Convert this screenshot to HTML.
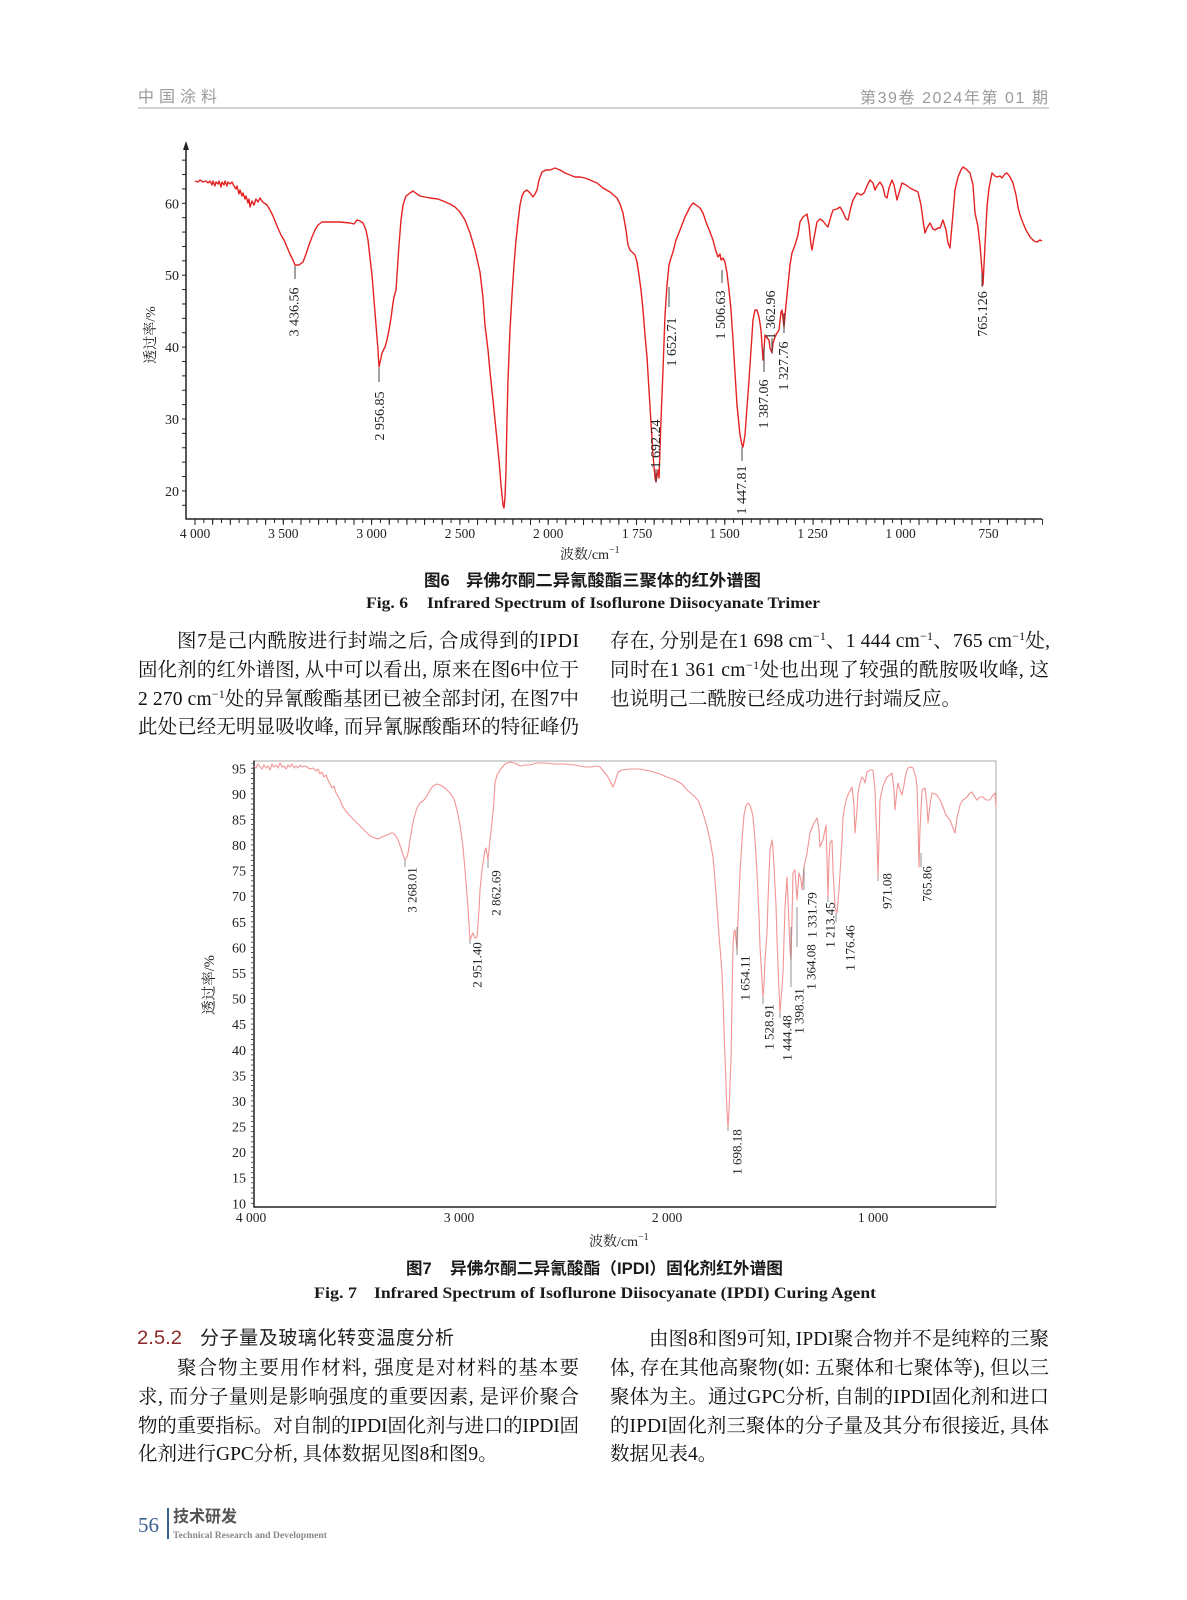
<!DOCTYPE html>
<html><head><meta charset="utf-8"><style>
html,body{margin:0;padding:0;background:#fff;}
svg{display:block;}
.s{font-family:"Liberation Serif","Noto Serif CJK SC",serif;}
.ss{font-family:"Liberation Sans","Noto Sans CJK SC",sans-serif;}
.b{font-family:"Liberation Serif","Noto Serif CJK SC",serif;font-size:19.5px;fill:#111;}
</style></head><body>
<svg width="1187" height="1600" viewBox="0 0 1187 1600" xmlns="http://www.w3.org/2000/svg">
<defs>
<pattern id="tx6" x="194.5" y="0" width="8.83" height="20" patternUnits="userSpaceOnUse"><rect x="0" y="0" width="1" height="20" fill="#222"/></pattern>
<pattern id="tx6m" x="194.5" y="0" width="17.66" height="20" patternUnits="userSpaceOnUse"><rect x="0" y="0" width="1" height="20" fill="#222"/></pattern>
<pattern id="ty6" x="0" y="202.8" width="20" height="14.38" patternUnits="userSpaceOnUse"><rect x="0" y="0" width="20" height="1" fill="#222"/></pattern>
<pattern id="ty7" x="0" y="767.8" width="20" height="5.118" patternUnits="userSpaceOnUse"><rect x="0" y="0" width="20" height="0.8" fill="#333"/></pattern>
</defs>
<rect width="1187" height="1600" fill="#fff"/>

<!-- Header -->
<text class="ss" x="138" y="102" font-size="16" fill="#9a9a9a" textLength="79" lengthAdjust="spacing">中国涂料</text>
<text class="ss" x="860" y="103" font-size="16" fill="#9a9a9a" textLength="188" lengthAdjust="spacing">第39卷  2024年第 01 期</text>
<line x1="138" y1="108" x2="1049" y2="108" stroke="#d4d4d4" stroke-width="2"/>

<!-- ================= FIG 6 ================= -->
<line x1="186" y1="146" x2="186" y2="519.5" stroke="#222" stroke-width="1.5"/>
<polygon points="186,141 183,150 189,150" fill="#222"/>
<line x1="185.5" y1="519" x2="1042" y2="519" stroke="#222" stroke-width="1.5"/>
<rect x="194" y="519" width="849" height="4" fill="url(#tx6)"/>
<rect x="194" y="519" width="849" height="6" fill="url(#tx6m)"/>
<rect x="182" y="150" width="4" height="368" fill="url(#ty6)"/>
<g class="s" font-size="14" fill="#222" text-anchor="end">
<text x="179" y="208.3">60</text>
<text x="179" y="280.2">50</text>
<text x="179" y="352.1">40</text>
<text x="179" y="424">30</text>
<text x="179" y="495.9">20</text>
</g>
<g class="s" font-size="13.5" fill="#222" text-anchor="middle">
<text x="195" y="538">4 000</text>
<text x="283.3" y="538">3 500</text>
<text x="371.6" y="538">3 000</text>
<text x="459.9" y="538">2 500</text>
<text x="548.2" y="538">2 000</text>
<text x="637" y="538">1 750</text>
<text x="724.5" y="538">1 500</text>
<text x="812.5" y="538">1 250</text>
<text x="900.5" y="538">1 000</text>
<text x="988.5" y="538">750</text>
</g>
<text class="s" font-size="14" fill="#222" text-anchor="middle" transform="translate(150,335) rotate(-90)" dy="0.35em">透过率/%</text>
<text class="s" font-size="14" fill="#222" x="560" y="559">波数/cm<tspan font-size="10" dy="-6">−1</tspan></text>

<path fill="none" stroke="#e52222" stroke-width="1.4" stroke-linejoin="round" d="M195,181 L198,182 L200,180 L203,182 L206,181 L208,183 L210,181 L212,185 L213,181 L215,186 L216,182 L218,184 L219,181 L221,187 L222,182 L224,185 L225,181 L227,186 L228,182 L230,184 L232,182 L234,186 L236,189 L237,186 L239,194 L240,190 L242,196 L243,193 L245,199 L246,196 L248,203 L249,199 L250,207 L252,201 L254,205 L256,199 L258,202 L260,198 L262,201 L264,203 L267,205 L270,210 L273,216 L277,226 L281,235 L284,240 L287,247 L290,254 L293,260 L295,265 L299,265 L303,262 L306,254 L309,245 L312,237 L315,230 L318,225 L322,222 L330,222 L340,222 L350,223 L354,224 L357,220 L360,221 L363,223 L366,230 L368,240 L370,258 L372,275 L374,300 L376,325 L378,350 L379,367 L381,358 L382,353 L385,347 L387,340 L389,330 L391,318 L393,303 L394,297 L396,290 L397,275 L399,245 L401,220 L403,205 L406,196 L410,193 L413,191 L417,194 L420,196 L425,197 L430,198 L438,199 L443,201 L450,204 L455,207 L460,212 L465,220 L470,233 L475,250 L480,272 L483,298 L485,325 L488,350 L490,372 L493,400 L496,430 L499,460 L501,485 L503,505 L504,508 L505,497 L506,470 L507,420 L508,380 L510,330 L512,295 L514,265 L516,240 L518,222 L520,205 L522,196 L524,192 L527,190 L530,193 L533,197 L535,194 L537,190 L539,180 L542,172 L546,170 L550,170 L555,168 L560,170 L565,173 L570,175 L575,177 L580,177 L585,178 L590,180 L597,183 L603,188 L610,192 L617,198 L620,204 L623,213 L626,230 L628,245 L630,250 L633,253 L635,255 L637,262 L639,275 L641,290 L643,310 L645,335 L647,357 L649,390 L651,423 L653,455 L655,478 L656,482 L657,476 L658,470 L659,478 L660,450 L661,420 L663,370 L665,315 L667,285 L669,265 L671,258 L673,252 L676,240 L680,230 L685,217 L690,207 L693,203 L696,205 L700,208 L703,213 L706,222 L708,227 L710,232 L713,240 L715,248 L717,254 L718,257 L720,254 L721,260 L723,258 L725,262 L727,273 L729,290 L731,310 L733,340 L735,373 L737,405 L740,435 L742,445 L743,447 L745,435 L747,407 L749,380 L751,350 L753,320 L755,310 L757,310 L759,317 L761,330 L763,360 L764,350 L765,335 L767,338 L769,340 L770,348 L772,353 L773,343 L775,337 L777,333 L779,330 L781,312 L782,310 L783,318 L784,327 L786,305 L788,285 L790,265 L792,253 L795,245 L798,235 L800,222 L803,217 L807,214 L809,225 L811,245 L812,250 L814,238 L817,222 L820,219 L823,221 L826,225 L828,227 L831,216 L833,210 L837,209 L840,207 L843,212 L846,219 L848,220 L851,207 L853,200 L857,193 L861,195 L864,193 L867,186 L870,180 L873,183 L875,190 L877,186 L880,182 L883,187 L885,196 L887,198 L889,188 L892,180 L894,185 L897,200 L899,193 L902,183 L906,185 L910,188 L914,190 L918,192 L921,205 L923,220 L925,233 L927,228 L930,223 L933,229 L935,230 L938,228 L940,228 L943,220 L946,230 L948,243 L950,248 L952,225 L955,190 L958,177 L961,170 L963,167 L966,169 L970,173 L973,185 L975,213 L977,222 L978,227 L980,245 L982,270 L983,285 L985,245 L987,207 L989,188 L992,173 L995,176 L997,177 L1000,176 L1002,178 L1005,174 L1007,173 L1010,177 L1013,183 L1016,195 L1018,207 L1020,215 L1023,223 L1026,230 L1030,237 L1034,241 L1037,242 L1040,240 L1042,241"/>

<g stroke="#444" stroke-width="1">
<line x1="295" y1="266" x2="295" y2="279"/>
<line x1="379" y1="368" x2="379" y2="382"/>
<line x1="656" y1="469" x2="656" y2="482"/>
<line x1="669" y1="287" x2="669" y2="307"/>
<line x1="722" y1="270" x2="722" y2="283"/>
<line x1="742" y1="447" x2="742" y2="461"/>
<line x1="764" y1="347" x2="764" y2="372"/>
<line x1="772" y1="338" x2="772" y2="353"/>
<line x1="784" y1="313" x2="784" y2="333"/>
<line x1="982" y1="273" x2="982" y2="287"/>
</g>
<g class="s" font-size="14" fill="#222" text-anchor="middle">
<text transform="translate(293.5,312) rotate(-90)" dy="0.35em">3 436.56</text>
<text transform="translate(379,416) rotate(-90)" dy="0.35em">2 956.85</text>
<text transform="translate(655,444) rotate(-90)" dy="0.35em">1 692.24</text>
<text transform="translate(671,342) rotate(-90)" dy="0.35em">1 652.71</text>
<text transform="translate(720,315) rotate(-90)" dy="0.35em">1 506.63</text>
<text transform="translate(741,490) rotate(-90)" dy="0.35em">1 447.81</text>
<text transform="translate(763,404) rotate(-90)" dy="0.35em">1 387.06</text>
<text transform="translate(770,315) rotate(-90)" dy="0.35em">1 362.96</text>
<text transform="translate(783,366) rotate(-90)" dy="0.35em">1 327.76</text>
<text transform="translate(982,314) rotate(-90)" dy="0.35em">765.126</text>
</g>

<!-- Fig 6 caption -->
<text class="ss" x="424" y="586" font-size="16.5" font-weight="bold" fill="#1a1a1a">图6</text>
<text class="ss" x="466" y="586" font-size="16.5" font-weight="bold" fill="#1a1a1a" textLength="295" lengthAdjust="spacingAndGlyphs">异佛尔酮二异氰酸酯三聚体的红外谱图</text>
<text class="s" x="366" y="608" font-size="15.5" font-weight="bold" fill="#1a1a1a" textLength="42" lengthAdjust="spacingAndGlyphs">Fig. 6</text>
<text class="s" x="427" y="608" font-size="15.5" font-weight="bold" fill="#1a1a1a" textLength="393" lengthAdjust="spacingAndGlyphs">Infrared Spectrum of Isoflurone Diisocyanate Trimer</text>

<!-- Paragraph 1 -->
<text class="b" x="177" y="647" textLength="402" lengthAdjust="spacing">图7是己内酰胺进行封端之后, 合成得到的IPDI</text>
<text class="b" x="138" y="676" textLength="441" lengthAdjust="spacing">固化剂的红外谱图, 从中可以看出, 原来在图6中位于</text>
<text class="b" x="138" y="705" textLength="441" lengthAdjust="spacing">2 270 cm<tspan font-size="12" dy="-7">−1</tspan><tspan dy="7">处的异氰酸酯基团已被全部封闭, 在图7中</tspan></text>
<text class="b" x="138" y="733" textLength="441" lengthAdjust="spacing">此处已经无明显吸收峰, 而异氰脲酸酯环的特征峰仍</text>

<text class="b" x="610" y="647" textLength="440" lengthAdjust="spacing">存在, 分别是在1 698 cm<tspan font-size="12" dy="-7">−1</tspan><tspan dy="7">、1 444 cm</tspan><tspan font-size="12" dy="-7">−1</tspan><tspan dy="7">、765 cm</tspan><tspan font-size="12" dy="-7">−1</tspan><tspan dy="7">处,</tspan></text>
<text class="b" x="610" y="676" textLength="439" lengthAdjust="spacing">同时在1 361 cm<tspan font-size="12" dy="-7">−1</tspan><tspan dy="7">处也出现了较强的酰胺吸收峰, 这</tspan></text>
<text class="b" x="610" y="705">也说明己二酰胺已经成功进行封端反应。</text>

<!-- ================= FIG 7 ================= -->
<rect x="254" y="761" width="742" height="446" fill="none" stroke="#a8a8a8" stroke-width="1"/>
<line x1="254" y1="760.5" x2="254" y2="1207.5" stroke="#222" stroke-width="1.5"/>
<line x1="253.5" y1="1207" x2="996" y2="1207" stroke="#222" stroke-width="1.5"/>
<rect x="251" y="763" width="3" height="442" fill="url(#ty7)"/>
<g class="s" font-size="14" fill="#222" text-anchor="end">
<text x="246" y="773.3">95</text>
<text x="246" y="798.9">90</text>
<text x="246" y="824.5">85</text>
<text x="246" y="850.1">80</text>
<text x="246" y="875.7">75</text>
<text x="246" y="901.2">70</text>
<text x="246" y="926.8">65</text>
<text x="246" y="952.4">60</text>
<text x="246" y="978">55</text>
<text x="246" y="1003.6">50</text>
<text x="246" y="1029.2">45</text>
<text x="246" y="1054.8">40</text>
<text x="246" y="1080.4">35</text>
<text x="246" y="1105.9">30</text>
<text x="246" y="1131.5">25</text>
<text x="246" y="1157.1">20</text>
<text x="246" y="1182.7">15</text>
<text x="246" y="1208.3">10</text>
</g>
<g class="s" font-size="13.5" fill="#222" text-anchor="middle">
<text x="251" y="1222">4 000</text>
<text x="459" y="1222">3 000</text>
<text x="667" y="1222">2 000</text>
<text x="873" y="1222">1 000</text>
</g>
<text class="s" font-size="14.5" fill="#222" text-anchor="middle" transform="translate(209,985) rotate(-90)" dy="0.35em">透过率/%</text>
<text class="s" font-size="14" fill="#222" x="589" y="1246">波数/cm<tspan font-size="10" dy="-6">−1</tspan></text>

<path fill="none" stroke="#f29494" stroke-width="1.1" stroke-linejoin="round" d="M254,766 L256,768 L258,764 L260,767 L262,769 L264,765 L266,768 L268,766 L270,770 L272,764 L274,767 L276,765 L278,768 L280,763 L282,767 L284,766 L286,769 L288,765 L290,767 L292,764 L294,768 L296,766 L298,768 L300,765 L302,767 L305,766 L307,767 L310,769 L313,768 L316,771 L318,769 L320,774 L322,772 L324,777 L326,775 L328,780 L330,784 L332,788 L334,786 L336,793 L338,796 L340,800 L342,805 L345,810 L350,816 L357,823 L363,829 L370,836 L375,838 L378,839 L382,837 L387,835 L391,833 L393,833 L396,836 L398,840 L401,848 L403,855 L405,860 L407,857 L408,853 L410,840 L412,828 L414,818 L417,808 L420,803 L424,800 L427,796 L430,790 L433,786 L437,784 L440,785 L445,788 L450,793 L454,799 L457,810 L460,825 L463,847 L465,870 L467,895 L468,907 L469,925 L470,940 L472,935 L473,933 L475,938 L477,937 L479,910 L480,890 L482,870 L485,850 L486,848 L488,860 L490,840 L492,823 L494,800 L495,783 L497,775 L500,770 L505,764 L510,762 L514,763 L517,764 L520,766 L525,765 L530,765 L537,763 L545,763 L555,764 L563,764 L575,765 L585,767 L590,767 L597,766 L600,767 L605,773 L608,777 L611,783 L613,787 L615,782 L618,772 L622,770 L630,769 L640,769 L650,771 L660,774 L667,777 L675,780 L682,784 L687,790 L693,795 L698,800 L702,810 L705,820 L707,827 L710,840 L713,857 L715,880 L717,907 L719,935 L721,960 L722,973 L723,1000 L724,1030 L725,1057 L726,1085 L727,1110 L728,1127 L729,1110 L730,1085 L731,1060 L732,1000 L733,945 L734,932 L735,930 L736,940 L737,950 L738,920 L740,873 L742,840 L744,815 L746,806 L748,803 L750,805 L752,812 L753,817 L755,840 L757,873 L759,915 L760,947 L762,980 L763,997 L764,985 L765,960 L767,933 L768,900 L770,850 L772,840 L773,848 L774,867 L776,905 L777,940 L779,990 L780,1013 L781,1000 L783,973 L784,940 L785,907 L787,877 L788,900 L790,950 L791,960 L792,920 L793,873 L795,870 L797,900 L799,873 L801,880 L802,890 L804,867 L807,853 L810,833 L813,825 L817,818 L819,830 L820,847 L822,842 L823,840 L825,830 L826,825 L827,860 L828,897 L829,860 L830,843 L832,840 L833,870 L835,907 L837,913 L839,890 L840,873 L842,840 L843,817 L845,805 L847,797 L850,791 L852,787 L854,805 L855,833 L857,810 L858,793 L860,783 L862,777 L864,780 L865,783 L867,772 L870,770 L873,770 L875,790 L876,820 L877,840 L878,877 L879,840 L880,800 L883,786 L887,777 L890,775 L892,773 L894,790 L895,810 L897,790 L898,783 L900,790 L902,795 L904,785 L905,778 L907,770 L908,768 L911,767 L913,768 L916,778 L917,787 L918,820 L919,867 L920,830 L922,790 L925,788 L927,805 L928,823 L930,805 L932,793 L935,794 L937,795 L940,800 L943,807 L946,815 L950,820 L953,828 L955,833 L957,818 L960,805 L963,800 L967,797 L970,793 L972,792 L974,796 L977,800 L980,797 L983,797 L986,800 L990,800 L993,795 L995,793 L996,807"/>

<g stroke="#777" stroke-width="0.8">
<line x1="405" y1="860" x2="405" y2="867"/>
<line x1="470" y1="940" x2="470" y2="944"/>
<line x1="488" y1="860" x2="488" y2="868"/>
<line x1="737" y1="927" x2="737" y2="955"/>
<line x1="763" y1="997" x2="763" y2="1004"/>
<line x1="780" y1="1013" x2="780" y2="1018"/>
<line x1="791" y1="927" x2="791" y2="987"/>
<line x1="797" y1="907" x2="797" y2="947"/>
<line x1="804" y1="867" x2="804" y2="890"/>
<line x1="828" y1="897" x2="828" y2="902"/>
<line x1="836" y1="913" x2="836" y2="922"/>
<line x1="878" y1="877" x2="878" y2="881"/>
<line x1="921" y1="853" x2="921" y2="867"/>
<line x1="728" y1="1127" x2="728" y2="1131"/>
</g>
<g class="s" font-size="13" fill="#222" text-anchor="middle">
<text transform="translate(412,890) rotate(-90)" dy="0.35em">3 268.01</text>
<text transform="translate(477,965) rotate(-90)" dy="0.35em">2 951.40</text>
<text transform="translate(496,893) rotate(-90)" dy="0.35em">2 862.69</text>
<text transform="translate(745,978) rotate(-90)" dy="0.35em">1 654.11</text>
<text transform="translate(769,1027) rotate(-90)" dy="0.35em">1 528.91</text>
<text transform="translate(787,1038) rotate(-90)" dy="0.35em">1 444.48</text>
<text transform="translate(799,1011) rotate(-90)" dy="0.35em">1 398.31</text>
<text transform="translate(811,967) rotate(-90)" dy="0.35em">1 364.08</text>
<text transform="translate(812,915) rotate(-90)" dy="0.35em">1 331.79</text>
<text transform="translate(830,925) rotate(-90)" dy="0.35em">1 213.45</text>
<text transform="translate(850,948) rotate(-90)" dy="0.35em">1 176.46</text>
<text transform="translate(887,891) rotate(-90)" dy="0.35em">971.08</text>
<text transform="translate(927,884) rotate(-90)" dy="0.35em">765.86</text>
<text transform="translate(737,1152) rotate(-90)" dy="0.35em">1 698.18</text>
</g>

<!-- Fig 7 caption -->
<text class="ss" x="406" y="1274" font-size="16.5" font-weight="bold" fill="#1a1a1a">图7</text>
<text class="ss" x="450" y="1274" font-size="16.5" font-weight="bold" fill="#1a1a1a" textLength="333" lengthAdjust="spacingAndGlyphs">异佛尔酮二异氰酸酯（IPDI）固化剂红外谱图</text>
<text class="s" x="314" y="1298" font-size="15.5" font-weight="bold" fill="#1a1a1a" textLength="43" lengthAdjust="spacingAndGlyphs">Fig. 7</text>
<text class="s" x="374" y="1298" font-size="15.5" font-weight="bold" fill="#1a1a1a" textLength="502" lengthAdjust="spacingAndGlyphs">Infrared Spectrum of Isoflurone Diisocyanate (IPDI) Curing Agent</text>

<!-- Section 2.5.2 -->
<text class="ss" x="137" y="1344" font-size="19" fill="#8b2a2a" textLength="45" lengthAdjust="spacingAndGlyphs">2.5.2</text>
<text class="ss" x="200" y="1344" font-size="19" fill="#222" textLength="254" lengthAdjust="spacing">分子量及玻璃化转变温度分析</text>
<text class="b" x="177" y="1374" textLength="402" lengthAdjust="spacing">聚合物主要用作材料, 强度是对材料的基本要</text>
<text class="b" x="138" y="1403" textLength="441" lengthAdjust="spacing">求, 而分子量则是影响强度的重要因素, 是评价聚合</text>
<text class="b" x="138" y="1432" textLength="441" lengthAdjust="spacing">物的重要指标。对自制的IPDI固化剂与进口的IPDI固</text>
<text class="b" x="138" y="1460">化剂进行GPC分析, 具体数据见图8和图9。</text>

<text class="b" x="649" y="1345" textLength="400" lengthAdjust="spacing">由图8和图9可知, IPDI聚合物并不是纯粹的三聚</text>
<text class="b" x="610" y="1374" textLength="439" lengthAdjust="spacing">体, 存在其他高聚物(如: 五聚体和七聚体等), 但以三</text>
<text class="b" x="610" y="1403" textLength="439" lengthAdjust="spacing">聚体为主。通过GPC分析, 自制的IPDI固化剂和进口</text>
<text class="b" x="610" y="1432" textLength="439" lengthAdjust="spacing">的IPDI固化剂三聚体的分子量及其分布很接近, 具体</text>
<text class="b" x="610" y="1460">数据见表4。</text>

<!-- Footer -->
<text class="s" x="138" y="1532" font-size="21" fill="#3b5f8f">56</text>
<rect x="167" y="1508" width="2" height="31" fill="#3b5f8f"/>
<text class="ss" x="173" y="1522" font-size="16.5" font-weight="bold" fill="#555" textLength="64" lengthAdjust="spacingAndGlyphs">技术研发</text>
<text class="s" x="173" y="1538" font-size="9.5" font-weight="bold" fill="#888" textLength="154" lengthAdjust="spacingAndGlyphs">Technical Research and Development</text>
</svg>
</body></html>
